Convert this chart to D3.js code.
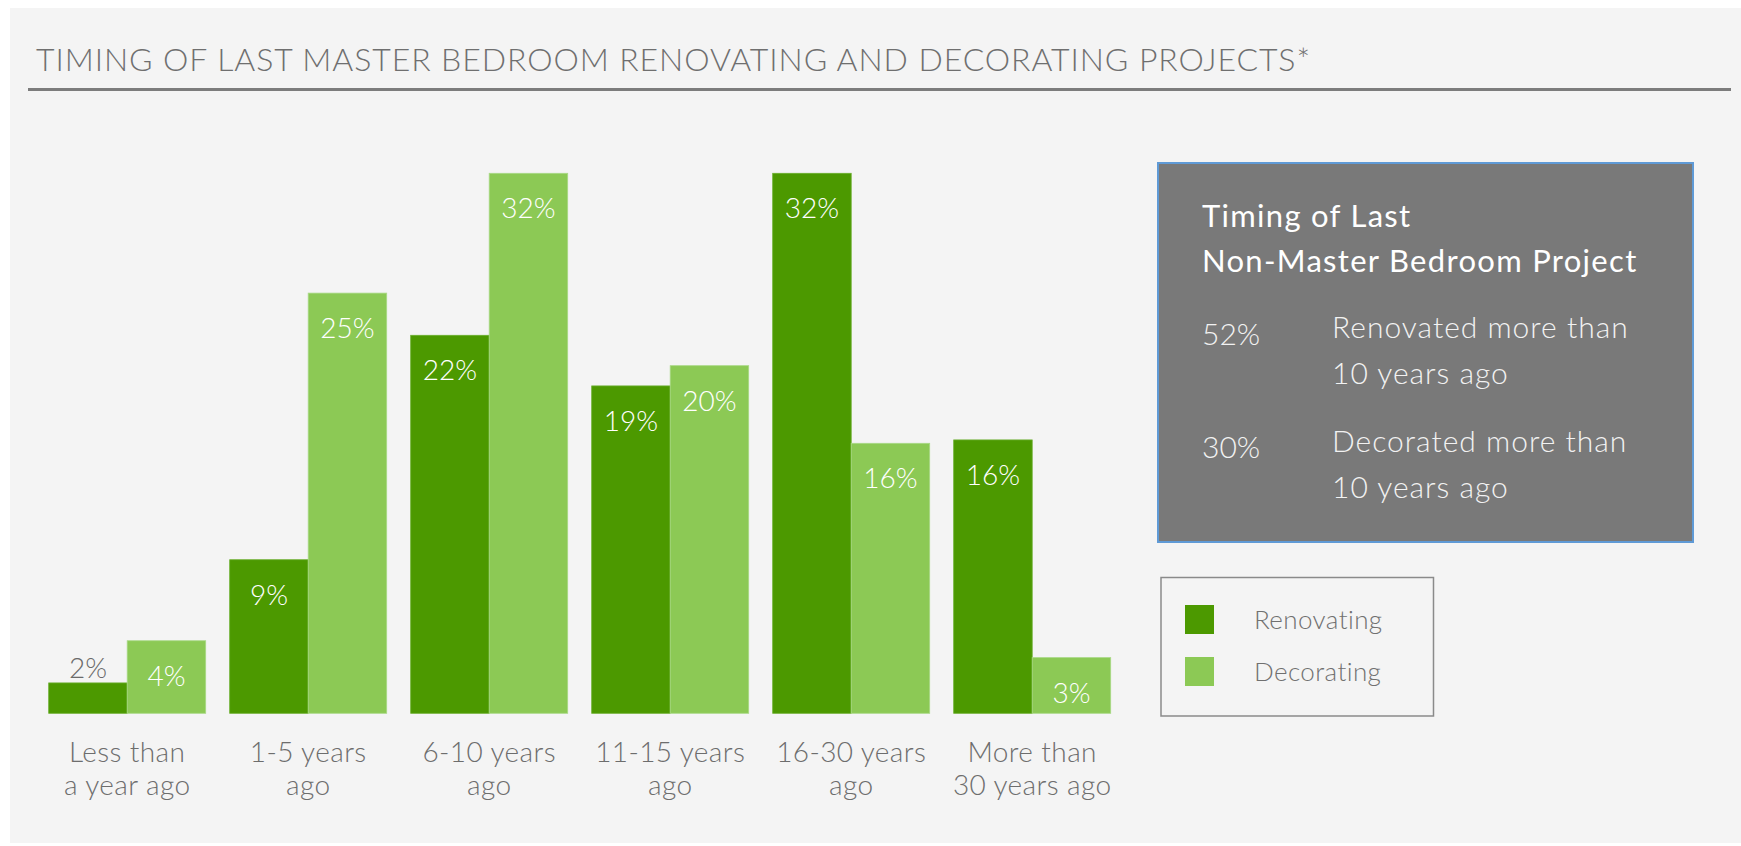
<!DOCTYPE html>
<html>
<head>
<meta charset="utf-8">
<script src="https://d3js.org/d3.v7.min.js"></script>
<style>
  body { margin: 0; background: #ffffff; }
  svg text { font-family: Lato, "Open Sans", sans-serif; }
</style>
</head>
<body>
<div id="chart"></div>
<script>
// chart values
const categories = [
  ["Less than", "a year ago"],
  ["1-5 years", "ago"],
  ["6-10 years", "ago"],
  ["11-15 years", "ago"],
  ["16-30 years", "ago"],
  ["More than", "30 years ago"]
];
const series = ["Renovating", "Decorating"];
const renovating = [1.8, 9.1, 22.4, 19.4, 32.0, 16.2];
const decorating = [4.3, 24.9, 32.0, 20.6, 16.0, 3.3];
const renovatingLabels = ["2%", "9%", "22%", "19%", "32%", "16%"];
const decoratingLabels = ["4%", "25%", "32%", "20%", "16%", "3%"];

const title = "TIMING OF LAST MASTER BEDROOM RENOVATING AND DECORATING PROJECTS*";
const sideTitle = ["Timing of Last", "Non-Master Bedroom Project"];
const sideValues = ["52%", "30%"];
const sideTexts = [
  ["Renovated more than", "10 years ago"],
  ["Decorated more than", "10 years ago"]
];

const colors = { Renovating: "#4c9900", Decorating: "#8cc955" };
const edge = { Renovating: "#6aae2c", Decorating: "#a9d986" };

var W = 1741, H = 846;

var svg = d3
  .select("#chart")
  .append("svg")
  .attr("width", W)
  .attr("height", H);

// light grey panel
svg.append("rect")
  .attr("x", 10).attr("y", 8)
  .attr("width", W - 10).attr("height", 835)
  .attr("fill", "#f4f4f4");

// title + rule
svg.append("text")
  .attr("x", 36).attr("y", 71)
  .attr("font-size", 32)
  .attr("font-weight", 300)
  .attr("fill", "#6f6f6f")
  .attr("textLength", 1274)
  .attr("lengthAdjust", "spacing")
  .text(title);

svg.append("line")
  .attr("x1", 28).attr("x2", 1731)
  .attr("y1", 89.5).attr("y2", 89.5)
  .attr("stroke", "#7c7c7c")
  .attr("stroke-width", 3);

// scales
var x0 = d3.scaleBand()
  .domain(d3.range(categories.length))
  .range([48.7, 1110.7])
  .paddingInner(24 / 181)
  .paddingOuter(0);

var x1 = d3.scaleBand()
  .domain(series)
  .range([0, x0.bandwidth()]);

var y = d3.scaleLinear().domain([0, 32]).range([713.3, 173.3]);

var rows = categories.map(function (c, i) {
  return [
    { key: "Renovating", value: renovating[i], label: renovatingLabels[i] },
    { key: "Decorating", value: decorating[i], label: decoratingLabels[i] }
  ];
});

var groups = svg.append("g")
  .selectAll("g")
  .data(rows)
  .enter()
  .append("g")
  .attr("transform", function (d, i) { return "translate(" + x0(i) + ",0)"; });

groups.selectAll("rect")
  .data(function (d) { return d; })
  .enter()
  .append("rect")
  .attr("x", function (d) { return x1(d.key); })
  .attr("y", function (d) { return y(d.value); })
  .attr("width", x1.bandwidth())
  .attr("height", function (d) { return y(0) - y(d.value); })
  .attr("fill", function (d) { return colors[d.key]; })
  .attr("stroke", function (d) { return edge[d.key]; })
  .attr("stroke-width", 0.8);

// value labels: inside the bar top, or above it when the bar is too short
groups.selectAll("text.val")
  .data(function (d) { return d; })
  .enter()
  .append("text")
  .attr("class", "val")
  .attr("x", function (d) { return x1(d.key) + x1.bandwidth() / 2; })
  .attr("y", function (d) {
    var h = y(0) - y(d.value);
    return h < 50 ? y(d.value) - 5 : y(d.value) + 45;
  })
  .attr("text-anchor", "middle")
  .attr("font-size", 28)
  .attr("font-weight", 300)
  .attr("fill", function (d) {
    return y(0) - y(d.value) < 50 ? "#6a6a6a" : "#ffffff";
  })
  .text(function (d) { return d.label; });

// category labels (two lines)
var cat = svg.append("g")
  .selectAll("text")
  .data(categories)
  .enter()
  .append("text")
  .attr("text-anchor", "middle")
  .attr("font-size", 28)
  .attr("font-weight", 300)
  .attr("letter-spacing", 0.4)
  .attr("fill", "#6d6d6d");

cat.selectAll("tspan")
  .data(function (d, i) { return d.map(function (t) { return { t: t, i: i }; }); })
  .enter()
  .append("tspan")
  .attr("x", function (d) { return x0(d.i) + x0.bandwidth() / 2; })
  .attr("y", function (d, j) { return 762 + j * 33; })
  .text(function (d) { return d.t; });

// side info box
var box = svg.append("g");
box.append("rect")
  .attr("x", 1158).attr("y", 163)
  .attr("width", 535).attr("height", 379)
  .attr("fill", "#797979")
  .attr("stroke", "#5f9ad6")
  .attr("stroke-width", 2);

box.selectAll("text.head")
  .data(sideTitle)
  .enter()
  .append("text")
  .attr("class", "head")
  .attr("x", 1202)
  .attr("y", function (d, i) { return 227 + i * 45; })
  .attr("font-size", 31)
  .attr("letter-spacing", 1.3)
  .attr("fill", "#ffffff")
  .text(function (d) { return d; });

box.selectAll("text.sv")
  .data(sideValues)
  .enter()
  .append("text")
  .attr("class", "sv")
  .attr("x", 1202)
  .attr("y", function (d, i) { return 345 + i * 113; })
  .attr("font-size", 30)
  .attr("font-weight", 300)
  .attr("fill", "#f2f2f2")
  .text(function (d) { return d; });

var st = box.selectAll("text.st")
  .data(sideTexts)
  .enter()
  .append("text")
  .attr("class", "st")
  .attr("font-size", 30)
  .attr("font-weight", 300)
  .attr("letter-spacing", 1)
  .attr("fill", "#f2f2f2");

st.selectAll("tspan")
  .data(function (d, i) { return d.map(function (t) { return { t: t, i: i }; }); })
  .enter()
  .append("tspan")
  .attr("x", 1332)
  .attr("y", function (d, j) { return 338 + d.i * 114 + j * 46; })
  .text(function (d) { return d.t; });

// legend
var legend = svg.append("g");
legend.append("rect")
  .attr("x", 1161).attr("y", 577.5)
  .attr("width", 272.5).attr("height", 138.5)
  .attr("fill", "none")
  .attr("stroke", "#8a8a8a")
  .attr("stroke-width", 1.5);

var li = legend.selectAll("g")
  .data(series)
  .enter()
  .append("g")
  .attr("transform", function (d, i) { return "translate(1185," + (605 + i * 52) + ")"; });

li.append("rect")
  .attr("width", 29).attr("height", 29)
  .attr("fill", function (d) { return colors[d]; });

li.append("text")
  .attr("x", 69).attr("y", 24)
  .attr("font-size", 26)
  .attr("font-weight", 300)
  .attr("letter-spacing", 0.4)
  .attr("fill", "#707070")
  .text(function (d) { return d; });
</script>
</body>
</html>
